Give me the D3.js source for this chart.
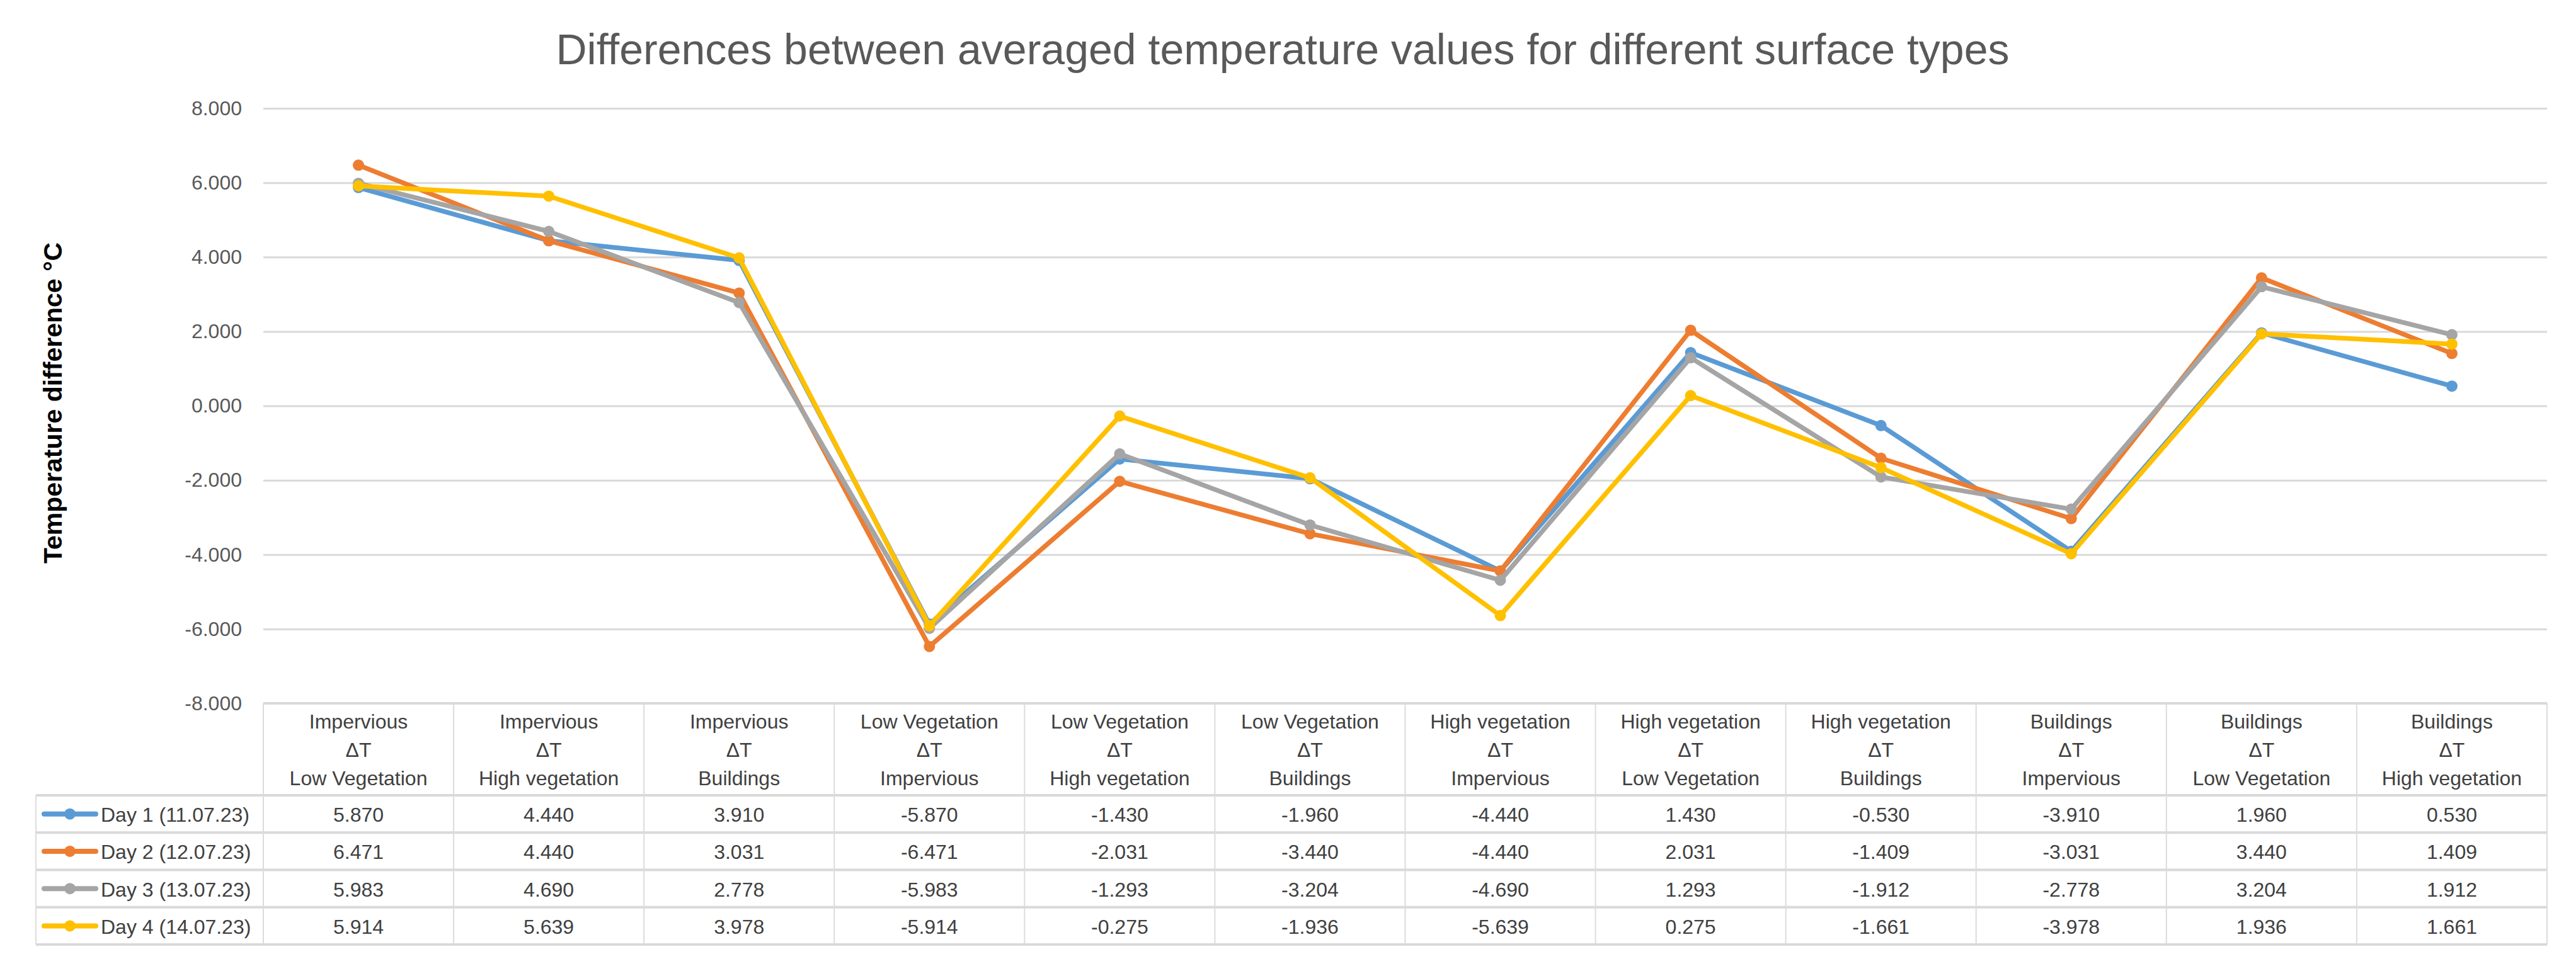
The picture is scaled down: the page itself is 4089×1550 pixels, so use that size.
<!DOCTYPE html>
<html>
<head>
<meta charset="utf-8">
<title>Differences between averaged temperature values</title>
<style>
body { margin: 0; background: #fff; }
text { font-family: "Liberation Sans", Arial, sans-serif; }
</style>
</head>
<body>
<script src="https://cdn.jsdelivr.net/npm/d3@7"></script>
<svg id="chart"></svg>
<script>

var categories = [
  ["Impervious", "\u0394T", "Low Vegetation"],
  ["Impervious", "\u0394T", "High vegetation"],
  ["Impervious", "\u0394T", "Buildings"],
  ["Low Vegetation", "\u0394T", "Impervious"],
  ["Low Vegetation", "\u0394T", "High vegetation"],
  ["Low Vegetation", "\u0394T", "Buildings"],
  ["High vegetation", "\u0394T", "Impervious"],
  ["High vegetation", "\u0394T", "Low Vegetation"],
  ["High vegetation", "\u0394T", "Buildings"],
  ["Buildings", "\u0394T", "Impervious"],
  ["Buildings", "\u0394T", "Low Vegetation"],
  ["Buildings", "\u0394T", "High vegetation"]
];

var seriesNames = ["Day 1 (11.07.23)", "Day 2 (12.07.23)", "Day 3 (13.07.23)", "Day 4 (14.07.23)"];
var seriesColors = ["#5B9BD5", "#ED7D31", "#A5A5A5", "#FFC000"];

var day1 = [5.870, 4.440, 3.910, -5.870, -1.430, -1.960, -4.440, 1.430, -0.530, -3.910, 1.960, 0.530];
var day2 = [6.471, 4.440, 3.031, -6.471, -2.031, -3.440, -4.440, 2.031, -1.409, -3.031, 3.440, 1.409];
var day3 = [5.983, 4.690, 2.778, -5.983, -1.293, -3.204, -4.690, 1.293, -1.912, -2.778, 3.204, 1.912];
var day4 = [5.914, 5.639, 3.978, -5.914, -0.275, -1.936, -5.639, 0.275, -1.661, -3.978, 1.936, 1.661];

var yTicks = [-8, -6, -4, -2, 0, 2, 4, 6, 8];

var series = [day1, day2, day3, day4];

var W = 4089, H = 1550;
var plotLeft = 418, plotRight = 4043, plotTop = 172, plotBottom = 1117;
var tableLeft = 57, headerBottom = 1263, rowH = 59.25;

var svg = d3.select("#chart")
  .attr("width", W)
  .attr("height", H);

svg.append("rect").attr("width", W).attr("height", H).attr("fill", "#fff");

var x = d3.scaleBand()
  .domain(d3.range(categories.length))
  .range([plotLeft, plotRight]);

var y = d3.scaleLinear()
  .domain([-8, 8])
  .range([plotBottom, plotTop]);

function fmt(v) { return v.toFixed(3); }

// title
svg.append("text")
  .attr("x", 2036)
  .attr("y", 102)
  .attr("text-anchor", "middle")
  .attr("font-size", 68)
  .attr("fill", "#595959")
  .text("Differences between averaged temperature values for different surface types");

// y axis title
svg.append("text")
  .attr("transform", "translate(98,640) rotate(-90)")
  .attr("text-anchor", "middle")
  .attr("font-size", 41)
  .attr("font-weight", "bold")
  .attr("fill", "#000")
  .text("Temperature difference \u00B0C");

// gridlines + tick labels
var yAxis = d3.axisLeft(y)
  .tickValues(yTicks)
  .tickSize(-(plotRight - plotLeft))
  .tickPadding(34)
  .tickFormat(fmt);

var ga = svg.append("g")
  .attr("transform", "translate(" + plotLeft + ",0)")
  .call(yAxis);
ga.select(".domain").remove();
ga.selectAll(".tick line").attr("stroke", "#D9D9D9").attr("stroke-width", 3);
ga.selectAll(".tick text")
  .attr("font-size", 32)
  .attr("fill", "#595959")
  .attr("font-family", "Liberation Sans, Arial, sans-serif");

// table lines
var tbl = svg.append("g");
var rowsY = d3.range(series.length + 1).map(function(i) { return headerBottom + i * rowH; });

tbl.append("line")
  .attr("x1", plotLeft).attr("x2", plotRight)
  .attr("y1", plotBottom).attr("y2", plotBottom)
  .attr("stroke", "#D9D9D9").attr("stroke-width", 4);

tbl.selectAll("line.h")
  .data(rowsY)
  .enter().append("line")
  .attr("class", "h")
  .attr("x1", tableLeft).attr("x2", plotRight)
  .attr("y1", function(d) { return d; }).attr("y2", function(d) { return d; })
  .attr("stroke", "#D9D9D9").attr("stroke-width", 4);

var colEdges = d3.range(categories.length + 1).map(function(i) {
  return i < categories.length ? x(i) : plotRight;
});
tbl.selectAll("line.v")
  .data(colEdges)
  .enter().append("line")
  .attr("class", "v")
  .attr("x1", function(d) { return d; }).attr("x2", function(d) { return d; })
  .attr("y1", plotBottom).attr("y2", rowsY[rowsY.length - 1])
  .attr("stroke", "#DCDCDC").attr("stroke-width", 2);

tbl.append("line")
  .attr("x1", tableLeft).attr("x2", tableLeft)
  .attr("y1", headerBottom).attr("y2", rowsY[rowsY.length - 1])
  .attr("stroke", "#DCDCDC").attr("stroke-width", 2);

// header labels
var hdr = svg.append("g").selectAll("text")
  .data(categories)
  .enter().append("text")
  .attr("text-anchor", "middle")
  .attr("font-size", 32)
  .attr("fill", "#404040");
hdr.each(function(d, i) {
  var t = d3.select(this);
  d.forEach(function(line, j) {
    t.append("tspan")
      .attr("x", x(i) + x.bandwidth() / 2)
      .attr("y", 1157 + j * 45)
      .text(line);
  });
});

// value cells and legend keys
series.forEach(function(vals, s) {
  svg.append("g").selectAll("text")
    .data(vals)
    .enter().append("text")
    .attr("x", function(d, i) { return x(i) + x.bandwidth() / 2; })
    .attr("y", rowsY[s] + 42)
    .attr("text-anchor", "middle")
    .attr("font-size", 32)
    .attr("fill", "#404040")
    .text(fmt);

  var lg = svg.append("g");
  lg.append("line")
    .attr("x1", 70).attr("x2", 152)
    .attr("y1", rowsY[s] + rowH / 2).attr("y2", rowsY[s] + rowH / 2)
    .attr("stroke", seriesColors[s]).attr("stroke-width", 8)
    .attr("stroke-linecap", "round");
  lg.append("circle")
    .attr("cx", 111).attr("cy", rowsY[s] + rowH / 2).attr("r", 9)
    .attr("fill", seriesColors[s]);
  lg.append("text")
    .attr("x", 160).attr("y", rowsY[s] + 42)
    .attr("font-size", 32)
    .attr("fill", "#404040")
    .text(seriesNames[s]);
});

// lines and markers
var line = d3.line()
  .x(function(d, i) { return x(i) + x.bandwidth() / 2; })
  .y(function(d) { return y(d); });

series.forEach(function(vals, s) {
  svg.append("path")
    .datum(vals)
    .attr("d", line)
    .attr("fill", "none")
    .attr("stroke", seriesColors[s])
    .attr("stroke-width", 7.5)
    .attr("stroke-linejoin", "round")
    .attr("stroke-linecap", "round");

  svg.append("g").selectAll("circle")
    .data(vals)
    .enter().append("circle")
    .attr("cx", function(d, i) { return x(i) + x.bandwidth() / 2; })
    .attr("cy", function(d) { return y(d); })
    .attr("r", 9)
    .attr("fill", seriesColors[s]);
});

</script>
</body>
</html>
